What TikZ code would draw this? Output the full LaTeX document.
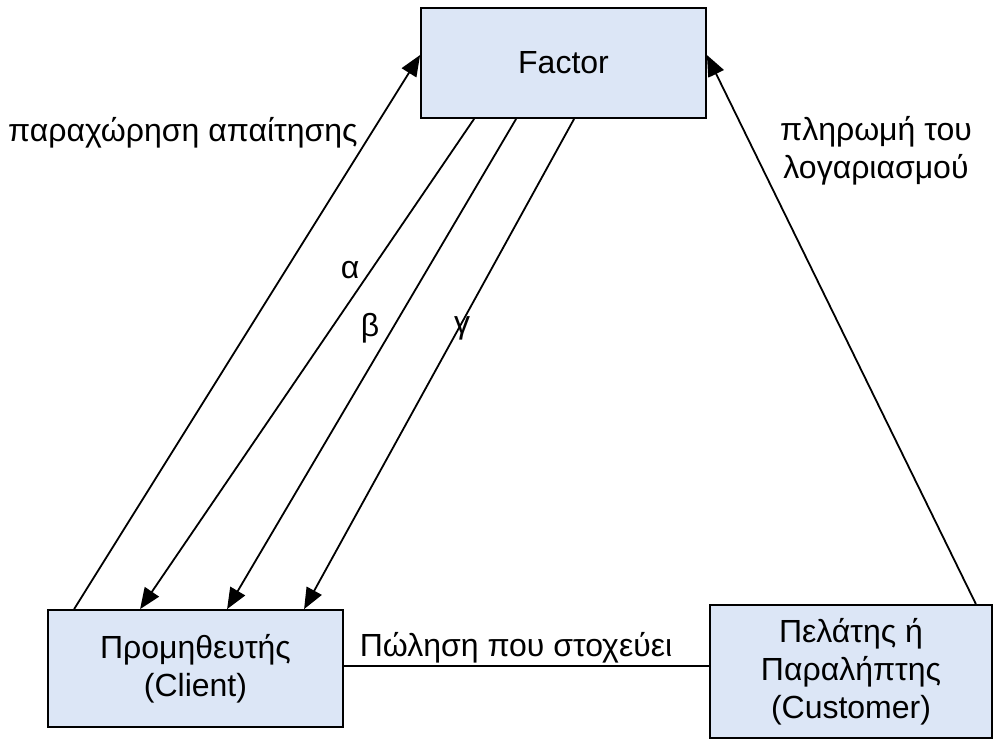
\documentclass[tikz,border=0pt]{standalone}
\usepackage{fontspec}
\setmainfont{Liberation Sans}
\usetikzlibrary{arrows.meta}
\definecolor{boxfill}{RGB}{220,230,246}
\begin{document}
\begin{tikzpicture}[x=1pt,y=-1pt,
  every node/.style={font=\fontsize{32}{38}\selectfont},
  box/.style={draw=black,line width=1.8pt,fill=boxfill,align=center,inner sep=0pt},
  arr/.style={line width=1.8pt,-{Triangle[length=21pt,width=17pt]}},
  lbl/.style={inner sep=0pt,align=center}]
\useasboundingbox (0,0) rectangle (993,743);
\node[box,minimum width=285pt,minimum height=110pt] (factor) at (563.5,63) {Factor};
\node[box,minimum width=295pt,minimum height=117pt] (client) at (195.5,668.5) {Προμηθευτής\\(Client)};
\node[box,minimum width=282pt,minimum height=133pt] (customer) at (851,671.5) {Πελάτης ή\\Παραλήπτης\\(Customer)};
\draw[line width=1.8pt] (client.east |- 0,666) coordinate (ls) -- (customer.west |- ls);
\node[lbl] (sale) at (516,648) {Πώληση που στοχεύει};
\draw[arr] ([xshift=27pt]client.north west) -- ([yshift=8pt]factor.west);
\draw[arr] ([xshift=54pt]factor.south west) -- ([xshift=93pt]client.north west);
\draw[arr] ([xshift=96pt]factor.south west) -- ([xshift=180pt]client.north west);
\draw[arr] ([xshift=154pt]factor.south west) -- ([xshift=257pt]client.north west);
\draw[arr] ([xshift=-17pt]customer.north east) -- ([yshift=8pt]factor.east);
\node[lbl,anchor=west] (assign) at (8,133) {παραχώρηση απαίτησης};
\node[lbl] (pay) at (876,151) {πληρωμή του\\λογαριασμού};
\node[lbl] (la) at (350,270) {α};
\node[lbl] (lb) at (370,328) {β};
\node[lbl] (lg) at (462,328) {γ};
\end{tikzpicture}
\end{document}
